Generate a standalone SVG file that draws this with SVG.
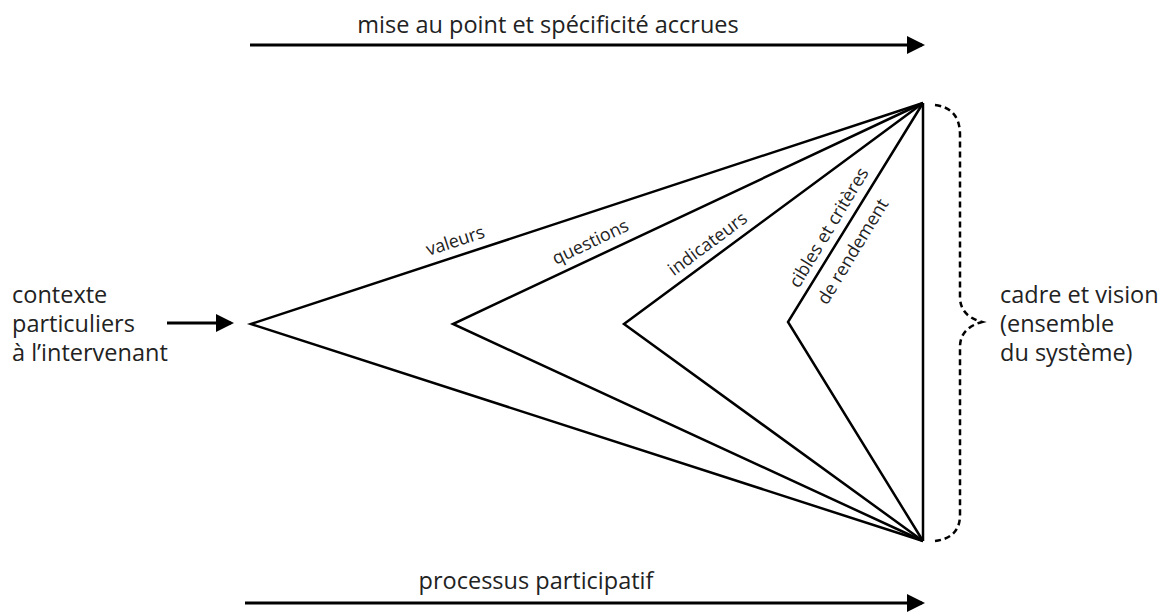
<svg xmlns="http://www.w3.org/2000/svg" width="1164" height="613" viewBox="0 0 1164 613">
<style>
.t{font-family:"Open Sans","Liberation Sans",sans-serif;font-size:23.5px;fill:#222}
.s{font-family:"Open Sans","Liberation Sans",sans-serif;font-size:18px;fill:#222}
.ln{stroke:#000;stroke-width:2.5;fill:none;stroke-linejoin:miter}
.ar{stroke:#000;stroke-width:3;fill:none}
</style>
<defs>
<marker id="ah" markerWidth="6" markerHeight="6" refX="5" refY="3" orient="auto" markerUnits="strokeWidth">
<path d="M0,0 L6,3 L0,6 Z" fill="#000"/>
</marker>
</defs>
<rect width="1164" height="613" fill="#fff"/>
<g id="connectors">
<line class="ar" x1="250" y1="45" x2="922" y2="45" marker-end="url(#ah)"/>
<line class="ar" x1="245" y1="603" x2="922" y2="603" marker-end="url(#ah)"/>
<line class="ar" x1="167" y1="323" x2="231" y2="323" marker-end="url(#ah)"/>
</g>
<g id="triangles">
<path class="ln" d="M923,103 L251,324 L923,541"/>
<path class="ln" d="M923,103 L453,324 L923,541"/>
<path class="ln" d="M923,103 L624,324 L923,541"/>
<path class="ln" d="M923,103 L788,322 L923,541"/>
<line class="ln" x1="923" y1="103" x2="923" y2="541"/>
</g>
<g id="brace">
<path d="M935,105 Q960,108 960,135 L960,297 Q960,316 982,322 Q960,328 960,347 L960,515 Q960,538 935,541" fill="none" stroke="#000" stroke-width="2.5" stroke-dasharray="6 4"/>
</g>
<g id="labels">
<text class="t" x="548" y="33" text-anchor="middle">mise au point et spécificité accrues</text>
<text class="t" x="536" y="589" text-anchor="middle">processus participatif</text>
<text class="t" x="12" y="303">contexte</text>
<text class="t" x="12" y="332">particuliers</text>
<text class="t" x="12" y="361">à l’intervenant</text>
<text class="t" x="1000" y="303">cadre et vision</text>
<text class="t" x="1000" y="332">(ensemble</text>
<text class="t" x="1000" y="361">du système)</text>
<text class="s" text-anchor="middle" dominant-baseline="central" transform="translate(455,240) rotate(-18.2)">valeurs</text>
<text class="s" text-anchor="middle" dominant-baseline="central" transform="translate(590,241) rotate(-25.3)">questions</text>
<text class="s" text-anchor="middle" dominant-baseline="central" transform="translate(707,243) rotate(-36.6)">indicateurs</text>
<text class="s" text-anchor="middle" dominant-baseline="central" transform="translate(828,227) rotate(-58.8)">cibles et critères</text>
<text class="s" text-anchor="middle" dominant-baseline="central" transform="translate(852,251) rotate(-58.8)">de rendement</text>
</g>
</svg>
